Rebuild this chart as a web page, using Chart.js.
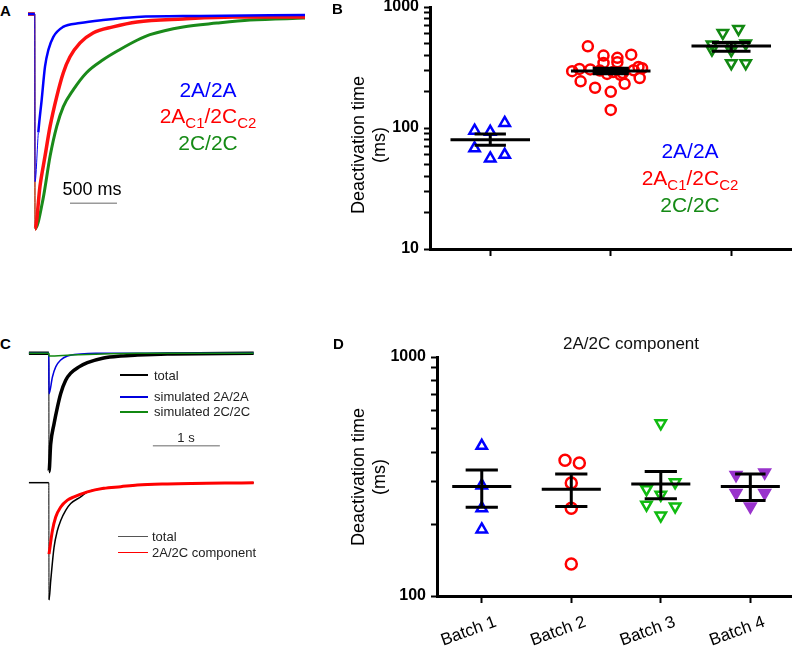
<!DOCTYPE html>
<html>
<head>
<meta charset="utf-8">
<script src="https://cdn.jsdelivr.net/npm/chart.js@4.4.1/dist/chart.umd.min.js"></script>
<style>
  body { margin:0; background:#fff; font-family:"Liberation Sans", Arial, sans-serif; }
  #fig { position:relative; width:800px; height:654px; overflow:hidden; }
  canvas { position:absolute; }
  .t { position:absolute; white-space:nowrap; line-height:1; }
  .big { font-size:21px; width:200px; text-align:center; }
  .sub { font-size:15px; position:relative; top:5px; }
  .lbl { font-size:15px; font-weight:bold; }
  .leg { font-size:13px; color:#222; }
  .ll { position:absolute; height:2px; }
  .yt { position:absolute; width:200px; height:42px; font-size:18px; line-height:21px; text-align:center; transform:rotate(-90deg); white-space:nowrap; }
</style>
</head>
<body>
<div id="fig">
  <canvas id="cA" width="290" height="230" style="left:20px;top:5px"></canvas>
  <canvas id="cB" width="470" height="290" style="left:330px;top:-10px"></canvas>
  <canvas id="cC1" width="245" height="140" style="left:20px;top:340px"></canvas>
  <canvas id="cC2" width="245" height="140" style="left:20px;top:470px"></canvas>
  <canvas id="cD" width="470" height="324" style="left:330px;top:330px"></canvas>

  <div class="t lbl" style="left:0px;top:3px">A</div>
  <div class="t lbl" style="left:332px;top:1px">B</div>
  <div class="t lbl" style="left:0px;top:336px">C</div>
  <div class="t lbl" style="left:333px;top:336px">D</div>

  <!-- panel A labels -->
  <div class="t big" style="left:108px;top:79px;color:#0000ff">2A/2A</div>
  <div class="t big" style="left:108px;top:105px;color:#ff0000">2A<span class="sub">C1</span>/2C<span class="sub">C2</span></div>
  <div class="t big" style="left:108px;top:132px;color:#158a15">2C/2C</div>
  <div class="t" style="left:42px;top:180px;width:100px;text-align:center;font-size:18px">500 ms</div>

  <!-- panel B labels -->
  <div class="yt" style="left:269px;top:124px">Deactivation time<br>(ms)</div>
  <div class="t big" style="left:590px;top:140px;color:#0000ff">2A/2A</div>
  <div class="t big" style="left:590px;top:167px;color:#ff0000">2A<span class="sub">C1</span>/2C<span class="sub">C2</span></div>
  <div class="t big" style="left:590px;top:194px;color:#158a15">2C/2C</div>

  <!-- panel C legends -->
  <div class="ll" style="left:120px;top:374px;width:28px;background:#000"></div>
  <div class="t leg" style="left:154px;top:369px">total</div>
  <div class="ll" style="left:120px;top:396px;width:28px;background:#0000dd"></div>
  <div class="t leg" style="left:154px;top:390px">simulated 2A/2A</div>
  <div class="ll" style="left:120px;top:411px;width:28px;background:#118811"></div>
  <div class="t leg" style="left:154px;top:405px">simulated 2C/2C</div>
  <div class="t" style="left:136px;top:431px;width:100px;text-align:center;font-size:13px;color:#222">1 s</div>
  <div class="ll" style="left:118px;top:536px;width:30px;height:1px;background:#555"></div>
  <div class="t leg" style="left:152px;top:530px">total</div>
  <div class="ll" style="left:118px;top:552px;width:30px;height:1px;background:#ff0000"></div>
  <div class="t leg" style="left:152px;top:546px">2A/2C component</div>

  <!-- panel D labels -->
  <div class="t" style="left:481px;top:335px;width:300px;text-align:center;font-size:17px;color:#111">2A/2C component</div>
  <div class="yt" style="left:269px;top:456px">Deactivation time<br>(ms)</div>
</div>

<script>
// ---- panel A: normalised currents (time ms, current / peak)
const tA_blue = [-75, -3, 0, 35, 71, 106, 142, 195, 298, 479, 724, 1085, 1755, 2873];
const iA_blue = [0, 0, -0.78, -0.551, -0.398, -0.245, -0.167, -0.106, -0.06, -0.042, -0.028, -0.014, -0.009, -0.005];
const tA_red = [-75, -3, 0, 53, 106, 160, 231, 301, 372, 479, 617, 830, 1085, 1575, 2107, 2873];
const iA_red = [0, 0, -1, -0.80, -0.662, -0.523, -0.384, -0.273, -0.199, -0.134, -0.088, -0.06, -0.037, -0.023, -0.014, -0.014];
const tA_green = [-75, -3, 0, 85, 160, 231, 301, 408, 550, 724, 904, 1085, 1223, 1575, 1936, 2287, 2873];
const iA_green = [0, 0, -1, -0.861, -0.662, -0.523, -0.431, -0.352, -0.272, -0.213, -0.165, -0.122, -0.096, -0.06, -0.042, -0.028, -0.019];

// ---- panel C: total vs simulated components
const tC_total = [-300, -3, 0, 25, 75, 125, 175, 249, 324, 448, 573, 816, 1070, 1319, 1767, 3055];
const iC_total = [0, 0, -1, -0.767, -0.596, -0.456, -0.339, -0.228, -0.168, -0.115, -0.08, -0.04, -0.023, -0.015, -0.006, 0];
const tC_sim2A = [-300, -3, 0, 51, 100, 175, 275, 473, 700, 3055];
const iC_sim2A = [0, 0, -0.342, -0.2, -0.115, -0.057, -0.023, -0.006, 0, 0];
const tC_sim2C = [-300, -3, 0, 324, 816, 1319, 3055];
const iC_sim2C = [0, 0, -0.023, -0.015, -0.006, 0, 0];
const tC_total2 = [-300, -3, 0, 25, 75, 125, 175, 249, 324, 473, 573, 816, 1070, 1319, 1767, 3055];
const iC_total2 = [0, 0, -1, -0.839, -0.552, -0.408, -0.322, -0.236, -0.178, -0.121, -0.08, -0.049, -0.034, -0.02, -0.011, 0];
const tC_2A2C = [0, 51, 100, 175, 275, 373, 573, 816, 1070, 1319, 1767, 3055];
const iC_2A2C = [-0.609, -0.408, -0.293, -0.207, -0.149, -0.121, -0.078, -0.048, -0.034, -0.02, -0.011, 0];

// ---- panel B: deactivation time (ms), with horizontal jitter
const b_2A2A = [95, 93, 110, 68, 56, 60];
const b_2A2A_jit = [-0.13, 0, 0.12, -0.13, 0, 0.12];
const b_2A2C = [473, 397, 380, 404, 345, 350, 308, 305, 298, 290, 285, 300, 312, 280, 275, 243, 215, 199, 141, 232, 259, 320, 295];
const b_2A2C_jit = [-0.19, -0.06, 0.055, 0.17, -0.06, 0.055, -0.26, -0.17, -0.09, 0.02, 0.1, 0.19, 0.26, -0.03, 0.08, -0.25, -0.13, 0, 0, 0.115, 0.24, 0.23, -0.32];
const b_2C2C = [610, 658, 490, 485, 500, 445, 440, 343, 343];
const b_2C2C_jit = [-0.07, 0.06, -0.16, 0, 0.12, -0.16, 0, 0, 0.12];
// mean and SEM limits as drawn
const b_mean = [80, 296, 475];
const b_semLo = [72, 281, 430];
const b_semHi = [89, 312, 510];
const yTicksB = [10, 20, 30, 40, 50, 60, 70, 80, 90, 100, 200, 300, 400, 500, 600, 700, 800, 900, 1000];
const yLabelsB = [10, 100, 1000];

// ---- panel D: 2A/2C component per batch
const batchLabels = ['Batch 1', 'Batch 2', 'Batch 3', 'Batch 4'];
const d_b1 = [425, 290, 233, 190];
const d_b1_jit = [0, 0, 0, 0];
const d_b2 = [370, 360, 297, 233, 136];
const d_b2_jit = [-0.07, 0.09, 0, 0, 0];
const d_b3 = [528, 280, 299, 265, 241, 237, 217];
const d_b3_jit = [0, -0.16, 0.16, 0, -0.16, 0.16, 0];
const d_b4 = [321, 329, 270, 270, 237];
const d_b4_jit = [-0.16, 0.16, -0.16, 0.16, 0];
const d_mean = [287, 280, 294, 287];
const d_semLo = [235, 237, 255, 251];
const d_semHi = [337, 324, 332, 324];
const yTicksD = [100, 200, 300, 400, 500, 600, 700, 800, 900, 1000];
const yLabelsD = [100, 1000];

Chart.defaults.font.family = '"Liberation Sans", Arial, sans-serif';
Chart.defaults.color = '#000';

// grey time scale bar, sized with the x scale
const scaleBar = {
  id: 'scaleBar',
  afterDatasetsDraw(chart, args, opts) {
    const xs = chart.scales.x, ys = chart.scales.y, ctx = chart.ctx;
    const y = ys.getPixelForValue(opts.at);
    ctx.save();
    ctx.strokeStyle = '#9a9a9a';
    ctx.lineWidth = 1.5;
    ctx.beginPath();
    ctx.moveTo(xs.getPixelForValue(opts.start), y);
    ctx.lineTo(xs.getPixelForValue(opts.start + opts.len), y);
    ctx.stroke();
    ctx.restore();
  }
};

function trace(t, v, color, width, thin, order) {
  return {
    data: t.map((x, i) => ({x: x, y: v[i]})),
    showLine: true, borderColor: color, borderWidth: width,
    pointRadius: 0, clip: false, order: order,
    cubicInterpolationMode: 'monotone',
    segment: { borderWidth: ctx => thin.includes(ctx.p0DataIndex) ? 1 : undefined }
  };
}

function traceOpts(xmin, xmax, ymin, ymax, bar) {
  return {
    responsive: false, animation: false, events: [],
    layout: { padding: 0 },
    plugins: { legend: { display: false }, tooltip: { enabled: false }, scaleBar: bar },
    scales: {
      x: { type: 'linear', display: false, min: xmin, max: xmax },
      y: { type: 'linear', display: false, min: ymin, max: ymax }
    }
  };
}

// panel A
new Chart(document.getElementById('cA'), {
  type: 'scatter',
  data: { datasets: [
    trace(tA_blue, iA_blue, '#0000ff', 2.5, [1, 2], 0),
    trace(tA_red, iA_red, '#ff1010', 3.5, [1], 1),
    trace(tA_green, iA_green, '#1a8a1a', 3, [1], 2)
  ]},
  options: traceOpts(-160, 2926, -1.028, 0.042, { start: 372, len: 500, at: -0.88 }),
  plugins: [scaleBar]
});

// panel C, upper
new Chart(document.getElementById('cC1'), {
  type: 'scatter',
  data: { datasets: [
    trace(tC_sim2C, iC_sim2C, '#118811', 1.5, [], 0),
    trace(tC_sim2A, iC_sim2A, '#0000dd', 1.5, [], 1),
    trace(tC_total, iC_total, '#000', 3.5, [1], 2)
  ]},
  options: traceOpts(-433, 3224, -1.07, 0.112, { start: 1550, len: 1000, at: -0.78 }),
  plugins: [scaleBar]
});

// panel C, lower
new Chart(document.getElementById('cC2'), {
  type: 'scatter',
  data: { datasets: [
    trace(tC_2A2C, iC_2A2C, '#ff0000', 3, [], 0),
    trace(tC_total2, iC_total2, '#000', 1.5, [1], 1)
  ]},
  options: traceOpts(-433, 3224, -1.085, 0.108, false)
});

// mean line with SEM whisker and caps, one broken line
function errBar(c, m, lo, hi, w, cap) {
  return {
    data: [
      {x: c - w, y: m}, {x: c + w, y: m}, {x: c, y: null},
      {x: c - cap, y: hi}, {x: c + cap, y: hi}, {x: c, y: null},
      {x: c - cap, y: lo}, {x: c + cap, y: lo}, {x: c, y: null},
      {x: c, y: lo}, {x: c, y: hi}
    ],
    showLine: true, borderColor: '#000', borderWidth: 3, pointRadius: 0, order: 0, clip: false
  };
}
function dots(c, v, jit, color, style, rot, fill, r) {
  return {
    data: v.map((y, i) => ({x: c + jit[i], y: y})),
    showLine: false, pointStyle: style, pointRotation: rot, pointRadius: r,
    borderColor: color, pointBorderWidth: 2.5, borderWidth: 2.5,
    backgroundColor: fill ? color : 'rgba(0,0,0,0)', order: 1, clip: false
  };
}
function logAxis(min, max, tickList, labels, width) {
  return {
    type: 'logarithmic', min: min, max: max,
    afterBuildTicks: s => { s.ticks = tickList.map(v => ({value: v})); },
    afterFit: s => { s.width = width; },
    ticks: { autoSkip: false, padding: 5, color: '#000', font: { size: 16, weight: 'bold' },
             callback: v => labels.includes(v) ? String(v) : '' },
    grid: { drawOnChartArea: false, color: '#000', tickLength: 6, tickWidth: 2 },
    border: { color: '#000', width: 3 }
  };
}
function catAxis(min, max, n, height, labels, tickFont) {
  return {
    type: 'linear', min: min, max: max,
    afterBuildTicks: s => { s.ticks = Array.from({length: n}, (_, i) => ({value: i + 1})); },
    afterFit: s => { s.height = height; },
    ticks: { autoSkip: false, minRotation: labels ? 20 : 0, maxRotation: labels ? 20 : 0,
             labelOffset: labels ? 14 : 0, padding: 9, color: '#000', font: tickFont,
             callback: v => labels ? labels[v - 1] : '' },
    grid: { drawOnChartArea: false, color: '#000', tickLength: 7, tickWidth: 2 },
    border: { color: '#000', width: 3 }
  };
}
function scatterOpts(x, y, pad) {
  return {
    responsive: false, animation: false, events: [],
    layout: { padding: pad },
    plugins: { legend: { display: false }, tooltip: { enabled: false } },
    scales: { x: x, y: y }
  };
}

// panel B
new Chart(document.getElementById('cB'), {
  type: 'scatter',
  data: { datasets: [
    errBar(1, b_mean[0], b_semLo[0], b_semHi[0], 0.33, 0.13),
    errBar(2, b_mean[1], b_semLo[1], b_semHi[1], 0.33, 0.15),
    errBar(3, b_mean[2], b_semLo[2], b_semHi[2], 0.33, 0.16),
    dots(1, b_2A2A, b_2A2A_jit, '#0000ff', 'triangle', 0, false, 6),
    dots(2, b_2A2C, b_2A2C_jit, '#ff0000', 'circle', 0, false, 5),
    dots(3, b_2C2C, b_2C2C_jit, '#118811', 'triangle', 180, false, 6)
  ]},
  options: scatterOpts(catAxis(0.5, 3.5, 3, 31, null, { size: 16 }),
                       logAxis(10, 1000, yTicksB, yLabelsB, 100),
                       { top: 17, left: 0, right: 8, bottom: 0 })
});

// panel D
new Chart(document.getElementById('cD'), {
  type: 'scatter',
  data: { datasets: [
    errBar(1, d_mean[0], d_semLo[0], d_semHi[0], 0.33, 0.18),
    errBar(2, d_mean[1], d_semLo[1], d_semHi[1], 0.33, 0.18),
    errBar(3, d_mean[2], d_semLo[2], d_semHi[2], 0.33, 0.18),
    errBar(4, d_mean[3], d_semLo[3], d_semHi[3], 0.33, 0.17),
    dots(1, d_b1, d_b1_jit, '#0000ff', 'triangle', 0, false, 6),
    dots(2, d_b2, d_b2_jit, '#ff0000', 'circle', 0, false, 5.5),
    dots(3, d_b3, d_b3_jit, '#10bb10', 'triangle', 180, false, 6),
    dots(4, d_b4, d_b4_jit, '#9933cc', 'triangle', 180, true, 6)
  ]},
  options: scatterOpts(catAxis(0.5, 4.46, 4, 58, batchLabels, { size: 17 }),
                       logAxis(100, 1000, yTicksD, yLabelsD, 107),
                       { top: 27, left: 0, right: 4, bottom: 0 })
});
</script>
</body>
</html>
